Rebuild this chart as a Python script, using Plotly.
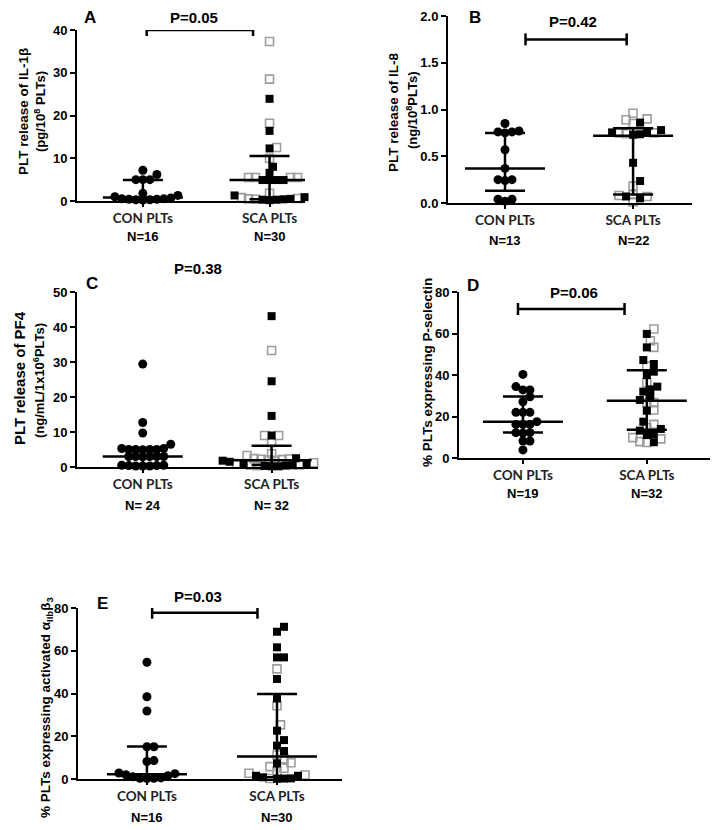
import numpy as np
import plotly.graph_objects as go

# ---- data ----
A_CON = [7.2, 6.2, 5.0, 5.0, 5.0, 1.8, 1.3, 1.0, 0.7, 0.5, 0.4, 0.3, 0.2, 0.3, 0.4, 0.5]
A_SCA_FILLED = [23.9, 16.4, 12.3, 8.0, 6.6, 4.9, 4.9, 4.9, 4.9, 1.3, 0.9, 0.4, 0.3, 0.2, 0.3, 0.5]
A_SCA_OPEN = [37.3, 28.5, 18.2, 12.5, 10.0, 5.5, 5.5, 5.5, 5.5, 1.8, 0.8, 0.6, 0.4, 0.5]
A_STATS = [[0.3, 0.8, 4.9], [0.4, 4.9, 10.5]]  # q1, median, q3 for CON, SCA

B_CON = [0.85, 0.76, 0.75, 0.76, 0.77, 0.57, 0.37, 0.25, 0.24, 0.25, 0.04, 0.02, 0.04]
B_SCA_FILLED = [0.86, 0.78, 0.75, 0.755, 0.73, 0.735, 0.43, 0.235, 0.07, 0.05]
B_SCA_OPEN = [0.96, 0.89, 0.85, 0.90, 0.74, 0.75, 0.75, 0.18, 0.08, 0.07, 0.09, 0.01]
B_STATS = [[0.13, 0.37, 0.75], [0.09, 0.72, 0.80]]

C_CON = [29.4, 12.7, 9.7, 6.5, 5.3, 5.0, 5.0, 4.9, 5.0, 5.0, 5.3, 3.0, 3.0, 3.0,
         2.9, 3.0, 3.0, 0.5, 0.4, 0.3, 0.3, 0.3, 0.4, 0.5]
C_SCA_FILLED = [43.1, 24.5, 14.6, 9.0, 2.5, 1.8, 1.0, 0.5, 0.3, 0.2, 0.2, 0.4, 1.5, 0.8]
C_SCA_OPEN = [33.3, 9.0, 9.0, 7.0, 3.8, 3.3, 2.3, 2.0, 2.2, 1.9, 1.7, 2.1, 2.4, 1.0,
              0.5, 0.6, 0.4, 1.2]
C_STATS = [[0.8, 3.0, 5.2], [0.6, 1.9, 6.1]]

D_CON = [40.3, 34.4, 32.8, 32.8, 29.5, 27.1, 22.0, 22.0, 22.0, 17.5, 16.2, 16.2,
         16.2, 12.2, 12.2, 12.0, 8.2, 8.2, 3.9]
D_SCA_FILLED = [59.8, 53.3, 47.2, 45.3, 41.6, 40.0, 34.4, 33.1, 32.0, 29.6, 28.0,
                22.8, 17.5, 13.2, 14.0, 11.4, 11.1, 7.6]
D_SCA_OPEN = [62.2, 56.5, 53.3, 44.3, 36.3, 26.7, 26.7, 23.1, 16.2, 14.6, 9.8, 7.9,
              7.5, 9.2]
D_STATS = [[12.3, 17.5, 29.6], [13.6, 27.6, 42.3]]

E_CON = [54.6, 38.5, 31.8, 15.1, 15.1, 8.6, 8.2, 2.5, 2.0, 1.5, 1.0, 0.5, 0.3, 0.2, 0.3, 2.8]
E_SCA_FILLED = [71.2, 68.9, 61.6, 56.9, 56.9, 46.8, 37.7, 22.6, 18.2, 15.6, 13.1, 7.3,
                1.5, 0.8, 0.3, 0.1, 0.2, 1.5]
E_SCA_OPEN = [51.5, 34.3, 25.3, 11.2, 9.4, 7.6, 5.8, 5.0, 2.7, 1.9, 3.7, 0.2]
E_STATS = [[0.5, 2.2, 15.2], [0.8, 10.5, 39.8]]

GROUPS = ["CON PLTs", "SCA PLTs"]
N_LABELS = [["N=16", "N=30"], ["N=13", "N=22"], ["N= 24", "N= 32"], ["N=19", "N=32"], ["N=16", "N=30"]]
P_LABELS = ["P=0.05", "P=0.42", "P=0.38", "P=0.06", "P=0.03"]
LETTERS = ["A", "B", "C", "D", "E"]

# the page body adds an 8px margin, so the figure is drawn 8px in from the corner
OFF = 8
W, H = 718 - OFF, 830 - OFF
FONT = "Liberation Sans, Arial, sans-serif"


def fx(px):
    return (px - OFF) / W


def fy(py):
    return 1 - (py - OFF) / H


def swarm(values, ypx, xpx, gap=7.0):
    """Greedy beeswarm offsets (in x data units)."""
    vals = np.asarray(values, float)
    offs = np.zeros(len(vals))
    placed = []
    s = gap / 2
    for i in np.argsort(vals, kind="stable"):
        y = vals[i] * ypx
        for j in range(200):
            c = ((j + 1) // 2) * s * (1 if j % 2 == 1 else -1)
            if all((c - px) ** 2 + (y - py) ** 2 >= 0.9 * gap ** 2 for px, py in placed):
                break
        placed.append((c, y))
        offs[i] = c / xpx
    return offs


# panel frames in reference pixels: left, right, top, bottom, y range, dtick, x range
panels = [
    dict(l=77, r=305, t=30, b=201, yr=[0, 40], dt=10, fmt="", xr=[-0.52, 1.28],
         con=A_CON, filled=A_SCA_FILLED, open=A_SCA_OPEN, stats=A_STATS,
         br=(0.03, 0.87, 40.0), p=(194, 17), let=(90, 17), nl=237,
         yt=[("PLT release of IL-1β", 23, 112, 13.5), ("(pg/10<sup>8</sup> PLTs)", 40, 112, 13)]),
    dict(l=448, r=692, t=16, b=203, yr=[0, 2], dt=0.5, fmt=".1f", xr=[-0.445, 1.46],
         con=B_CON, filled=B_SCA_FILLED, open=B_SCA_OPEN, stats=B_STATS,
         br=(0.16, 0.95, 1.75), p=(573, 21), let=(475, 18), nl=241,
         yt=[("PLT release of IL-8", 393, 112, 13.5), ("(ng/10<sup>8</sup>PLTs)", 412, 110, 13)]),
    dict(l=77, r=318, t=292, b=467, yr=[0, 50], dt=10, fmt="", xr=[-0.51, 1.36],
         con=C_CON, filled=C_SCA_FILLED, open=C_SCA_OPEN, stats=C_STATS,
         br=(-0.04, 0.97, 52.6), p=(198, 268), let=(92, 283), nl=505,
         yt=[("PLT release of PF4", 19, 378, 15), ("(ng/mL/1x10<sup>6</sup>PLTs)", 39, 380, 13)]),
    dict(l=459, r=710, t=292, b=458, yr=[0, 80], dt=20, fmt="", xr=[-0.516, 1.51],
         con=D_CON, filled=D_SCA_FILLED, open=D_SCA_OPEN, stats=D_STATS,
         br=(-0.04, 0.82, 71.8), p=(574, 292), let=(473, 285), nl=493,
         yt=[("% PLTs expressing P-selectin", 428, 373, 13.5)]),
    dict(l=78, r=342, t=608, b=779, yr=[0, 80], dt=20, fmt="", xr=[-0.53, 1.5],
         con=E_CON, filled=E_SCA_FILLED, open=E_SCA_OPEN, stats=E_STATS,
         br=(0.04, 0.85, 77.8), p=(198, 596), let=(103, 603), nl=817,
         yt=[("% PLTs expressing activated α<sub>IIb</sub>β<sub>3</sub>", 46, 708, 13.5)]),
]

fig = go.Figure()
shapes, annotations = [], []
bold = dict(family=FONT, size=13, color="black", weight="bold")


def note(text, x, y, size, xref="paper", angle=0):
    return dict(text=text, x=x, y=y, xref=xref, yref="paper", xanchor="center",
                yanchor="middle", textangle=angle, showarrow=False,
                font=dict(bold, size=size))


for n, pn in enumerate(panels, start=1):
    sfx = "" if n == 1 else str(n)
    xa, ya = f"x{sfx}", f"y{sfx}"
    ypx = (pn["b"] - pn["t"]) / (pn["yr"][1] - pn["yr"][0])
    xpx = (pn["r"] - pn["l"]) / (pn["xr"][1] - pn["xr"][0])

    con_x = swarm(pn["con"], ypx, xpx)
    fig.add_trace(go.Scatter(
        x=con_x, y=pn["con"], xaxis=xa, yaxis=ya, mode="markers", cliponaxis=False,
        marker=dict(symbol="circle", size=9, color="black"), showlegend=False))

    sca = list(pn["filled"]) + list(pn["open"])
    sca_x = 1 + swarm(sca, ypx, xpx)
    nf = len(pn["filled"])
    fig.add_trace(go.Scatter(
        x=sca_x[nf:], y=pn["open"], xaxis=xa, yaxis=ya, mode="markers", cliponaxis=False,
        marker=dict(symbol="square-open", size=8, color="#9d9d9d", line=dict(width=1.6)),
        showlegend=False))
    fig.add_trace(go.Scatter(
        x=sca_x[:nf], y=pn["filled"], xaxis=xa, yaxis=ya, mode="markers", cliponaxis=False,
        marker=dict(symbol="square", size=8, color="black"), showlegend=False))

    line = dict(color="black", width=2.5)
    mw, ww = 40 / xpx, 20 / xpx
    for g, (q1, med, q3) in enumerate(pn["stats"]):
        shapes.append(dict(type="line", xref=xa, yref=ya, x0=g, x1=g, y0=q1, y1=q3, line=line))
        shapes.append(dict(type="line", xref=xa, yref=ya, x0=g - mw, x1=g + mw, y0=med, y1=med, line=line))
        for q in (q1, q3):
            shapes.append(dict(type="line", xref=xa, yref=ya, x0=g - ww, x1=g + ww, y0=q, y1=q, line=line))

    bx0, bx1, by = pn["br"]
    tk = 6 / ypx
    shapes.append(dict(type="line", xref=xa, yref=ya, x0=bx0, x1=bx1, y0=by, y1=by, line=line))
    for bx in (bx0, bx1):
        shapes.append(dict(type="line", xref=xa, yref=ya, x0=bx, x1=bx, y0=by - tk, y1=by + tk, line=line))

    annotations.append(note(P_LABELS[n - 1], fx(pn["p"][0]), fy(pn["p"][1]), 15))
    annotations.append(note(LETTERS[n - 1], fx(pn["let"][0]), fy(pn["let"][1]), 17))
    for g, lab in enumerate(N_LABELS[n - 1]):
        annotations.append(note(lab, g, fy(pn["nl"]), 13, xref=xa))
    for txt, tx, ty, fs in pn["yt"]:
        annotations.append(note(txt, fx(tx), fy(ty), fs, angle=-90))

    fig.update_layout(**{
        f"xaxis{sfx}": dict(
            domain=[fx(pn["l"]), fx(pn["r"])], range=pn["xr"], anchor=ya,
            tickvals=[0, 1], ticktext=[f"<b>{g}</b>" for g in GROUPS],
            tickfont=dict(family="Lato, sans-serif", size=13.5, color="#222"),
            showline=True, linecolor="black", linewidth=2, ticks="outside",
            ticklen=4, tickwidth=2, tickcolor="black", showgrid=False, zeroline=False,
            automargin=False),
        f"yaxis{sfx}": dict(
            domain=[fy(pn["b"]), fy(pn["t"])], range=pn["yr"], anchor=xa,
            dtick=pn["dt"], tickformat=pn["fmt"], tickfont=bold,
            showline=True, linecolor="black", linewidth=2, ticks="outside",
            ticklen=5, tickwidth=2, tickcolor="black", showgrid=False, zeroline=False,
            automargin=False),
    })

fig.update_layout(
    width=W, height=H, margin=dict(l=0, r=0, t=0, b=0),
    paper_bgcolor="white", plot_bgcolor="white",
    shapes=[dict(s, layer="above") for s in shapes], annotations=annotations,
)
fig.write_html("out.html")
